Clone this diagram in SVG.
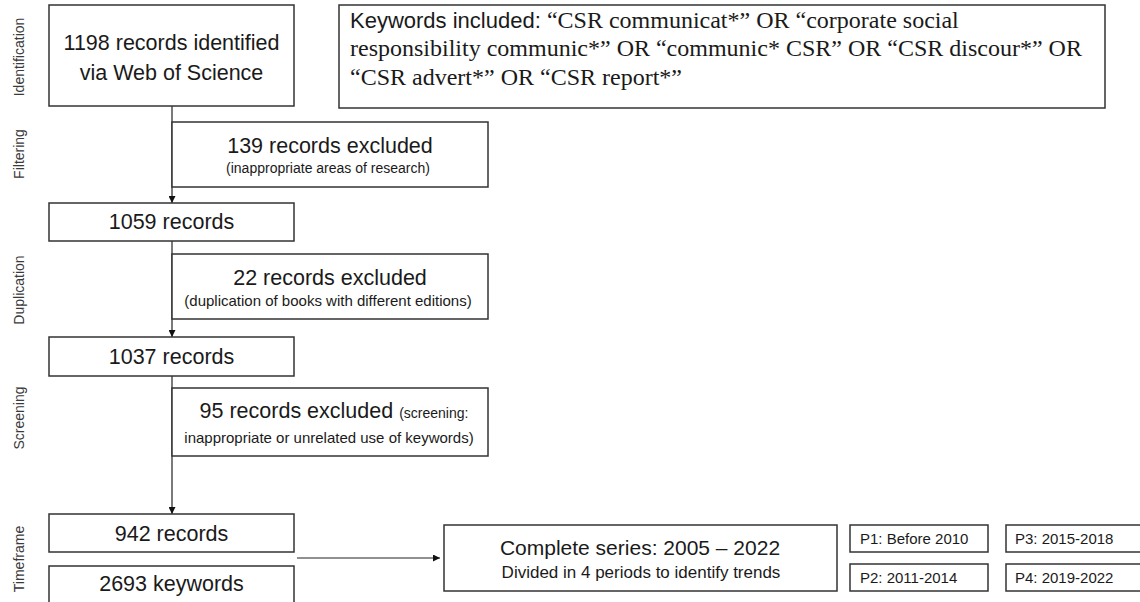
<svg xmlns="http://www.w3.org/2000/svg" width="1140" height="602" viewBox="0 0 1140 602">
<style>
.box{fill:#fff;stroke:#333;stroke-width:1.5}
.t{font-family:"Liberation Sans",Arial,sans-serif;fill:#1a1a1a}
.big{font-size:21.5px}
.sm{font-size:14px}
.p{font-size:15px}
.side{font-family:"Liberation Sans",Arial,sans-serif;font-size:14px;fill:#3a3a3a;text-anchor:middle}
.ser{font-family:"Liberation Serif","Times New Roman",serif;font-size:24px;fill:#1a1a1a}
.c{text-anchor:middle}
.ln{stroke:#222;stroke-width:1.2;fill:none}
</style>
<defs>
<marker id="ah" viewBox="0 0 10 10" refX="10" refY="5" markerWidth="7" markerHeight="7" markerUnits="userSpaceOnUse" orient="auto">
<path d="M0,0 L10,5 L0,10 z" fill="#111"/>
</marker>
</defs>
<rect width="1140" height="602" fill="#fff"/>
<g id="side-labels">
<text class="side" transform="translate(24,57) rotate(-90)">Identification</text>
<text class="side" transform="translate(24,154) rotate(-90)">Filtering</text>
<text class="side" transform="translate(24,290) rotate(-90)">Duplication</text>
<text class="side" transform="translate(24,418) rotate(-90)">Screening</text>
<text class="side" transform="translate(24,559) rotate(-90)">Timeframe</text>
</g>
<g id="connectors">
<line class="ln" x1="172" y1="106" x2="172" y2="203" marker-end="url(#ah)"/>
<line class="ln" x1="172" y1="241" x2="172" y2="337" marker-end="url(#ah)"/>
<line class="ln" x1="172" y1="376" x2="172" y2="514" marker-end="url(#ah)"/>
<line class="ln" x1="297" y1="558" x2="440" y2="558" marker-end="url(#ah)"/>
</g>
<g id="n1198">
<rect class="box" x="49" y="5" width="245" height="101"/>
<text class="t big c" x="171.5" y="50">1198 records identified</text>
<text class="t big c" x="171.5" y="80">via Web of Science</text>
</g>
<g id="keywords">
<rect class="box" x="339" y="5" width="766" height="103"/>
<text x="350" y="28"><tspan class="t" style="font-size:22px">Keywords included: </tspan><tspan class="ser">“CSR communicat*” OR “corporate social</tspan></text>
<text class="ser" x="350" y="56">responsibility communic*” OR “communic* CSR” OR “CSR discour*” OR</text>
<text class="ser" x="350" y="85">“CSR advert*” OR “CSR report*”</text>
</g>
<g id="filter">
<rect class="box" x="172" y="122" width="316" height="65"/>
<text class="t big c" x="330" y="153">139 records excluded</text>
<text class="t sm c" x="328" y="173">(inappropriate areas of research)</text>
</g>
<g id="n1059">
<rect class="box" x="49" y="203" width="245" height="38"/>
<text class="t big c" x="171.5" y="229">1059 records</text>
</g>
<g id="dup">
<rect class="box" x="172" y="254" width="316" height="65"/>
<text class="t big c" x="330" y="285">22 records excluded</text>
<text class="t c" x="328" y="306" style="font-size:15px">(duplication of books with different editions)</text>
</g>
<g id="n1037">
<rect class="box" x="49" y="337" width="245" height="39"/>
<text class="t big c" x="171.5" y="364">1037 records</text>
</g>
<g id="screen">
<rect class="box" x="172" y="388" width="316" height="68"/>
<text class="t c" x="334" y="418"><tspan class="big">95 records excluded </tspan><tspan class="sm">(screening:</tspan></text>
<text class="t c" x="329" y="443" style="font-size:15px">inappropriate or unrelated use of keywords)</text>
</g>
<g id="n942">
<rect class="box" x="49" y="514" width="245" height="38"/>
<text class="t big c" x="171.5" y="541">942 records</text>
</g>
<g id="n2693">
<rect class="box" x="49" y="566" width="245" height="40"/>
<text class="t big c" x="171.5" y="591">2693 keywords</text>
</g>
<g id="series">
<rect class="box" x="444" y="525" width="393" height="66"/>
<text class="t c" x="640" y="555" style="font-size:21px">Complete series: 2005 – 2022</text>
<text class="t c" x="641" y="578" style="font-size:17px">Divided in 4 periods to identify trends</text>
</g>
<g id="p1">
<rect class="box" x="850" y="525" width="138" height="27"/>
<text class="t p" x="860" y="544">P1: Before 2010</text>
</g>
<g id="p2">
<rect class="box" x="850" y="564" width="138" height="27"/>
<text class="t p" x="860" y="583">P2: 2011-2014</text>
</g>
<g id="p3">
<rect class="box" x="1006" y="525" width="140" height="27"/>
<text class="t p" x="1015" y="544">P3: 2015-2018</text>
</g>
<g id="p4">
<rect class="box" x="1006" y="564" width="140" height="27"/>
<text class="t p" x="1015" y="583">P4: 2019-2022</text>
</g>
</svg>
